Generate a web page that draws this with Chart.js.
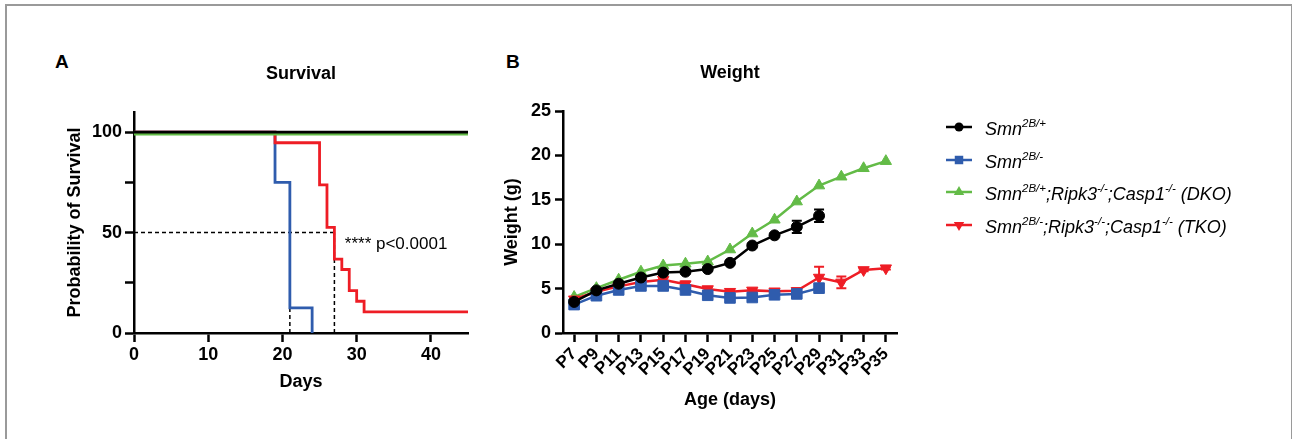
<!DOCTYPE html>
<html>
<head>
<meta charset="utf-8">
<script src="https://cdn.jsdelivr.net/npm/chart.js@4"></script>
<style>
  body { margin: 0; background: #fff; width: 1292px; height: 439px; overflow: hidden; position: relative; font-family: 'Liberation Sans', Arial, sans-serif; }
  #frame { position: absolute; left: 5px; top: 4px; width: 1284px; height: 460px; border: 2px solid #9a9a9a; }
  .letter { position: absolute; top: 52px; font-size: 19px; font-weight: bold; line-height: 1; }
  #boxA { position: absolute; left: 0; top: 0; width: 485px; height: 439px; }
  #boxB { position: absolute; left: 485px; top: 0; width: 807px; height: 439px; }
</style>
</head>
<body>
<div id="frame"></div>
<div class="letter" style="left:55px">A</div>
<div class="letter" style="left:506px">B</div>
<div id="boxA"><canvas id="chartA"></canvas></div>
<div id="boxB"><canvas id="chartB"></canvas></div>
<script>
// survival (Kaplan-Meier steps)
let wtDays = [0, 45];
let wtSurv = [100, 100];
let dkoDays = [0, 45];
let dkoSurv = [99, 99];
let smaDays = [0, 19, 21, 24];
let smaSurv = [100, 75, 12.5, 0];
let tkoDays = [0, 19, 25, 26, 27, 28, 29, 30, 31, 45];
let tkoSurv = [100, 94.7, 73.7, 52.6, 36.8, 31.6, 21.1, 15.8, 10.5, 10.5];
let medianDays = [21, 27];
let daysTicks = [0, 10, 20, 30, 40];
let survTicks = [0, 25, 50, 75, 100];

// weight
let ages = ['P7', 'P9', 'P11', 'P13', 'P15', 'P17', 'P19', 'P21', 'P23', 'P25', 'P27', 'P29', 'P31', 'P33', 'P35'];
let wtWeight = [3.5, 4.8, 5.55, 6.25, 6.8, 6.9, 7.2, 7.9, 9.85, 11.0, 11.95, 13.2];
let wtErr = [0.2, 0.15, 0.15, 0.2, 0.2, 0.2, 0.2, 0.2, 0.2, 0.2, 0.7, 0.7];
let smaWeight = [3.2, 4.2, 4.85, 5.3, 5.3, 4.85, 4.25, 3.95, 4.0, 4.3, 4.4, 5.05];
let smaErr = [0.1, 0.1, 0.1, 0.1, 0.1, 0.1, 0.1, 0.1, 0.1, 0.1, 0.1, 0.1];
let dkoWeight = [4.05, 5.05, 6.0, 6.9, 7.6, 7.8, 8.05, 9.4, 11.2, 12.75, 14.8, 16.6, 17.6, 18.55, 19.35];
let tkoWeight = [3.8, 4.65, 5.25, 5.75, 6.0, 5.5, 4.95, 4.65, 4.8, 4.7, 4.75, 6.25, 5.7, 7.1, 7.3];
let tkoErr = [0.1, 0.1, 0.1, 0.2, 0.2, 0.3, 0.2, 0.2, 0.2, 0.2, 0.2, 1.2, 0.65, 0.15, 0.15];

let legendText = [
  [['Smn', 0], ['2B/+', 1]],
  [['Smn', 0], ['2B/-', 1]],
  [['Smn', 0], ['2B/+', 1], [';Ripk3', 0], ['-/-', 1], [';Casp1', 0], ['-/-', 1], [' (DKO)', 0]],
  [['Smn', 0], ['2B/-', 1], [';Ripk3', 0], ['-/-', 1], [';Casp1', 0], ['-/-', 1], [' (TKO)', 0]]
];

const BLACK = '#000000';
const BLUE = '#2f5cad';
const GREEN = '#63bb47';
const RED = '#ee1d25';
const FONT = "'Liberation Sans', Arial, sans-serif";

Chart.defaults.font.family = FONT;
Chart.defaults.color = '#000';

function pts(xs, ys) {
  return xs.map((x, i) => ({x: x, y: ys[i]}));
}

const axisGrid = {display: true, drawOnChartArea: false, drawTicks: true, tickLength: 9, tickWidth: 2.5, tickColor: '#000'};
const axisBorder = {display: true, color: '#000', width: 2.5};
const boldFont = {size: 18, weight: 'bold'};

const pLabel = {
  id: 'pLabel',
  afterDraw(chart) {
    const {ctx, scales: {x, y}} = chart;
    ctx.save();
    ctx.font = '17px ' + FONT;
    ctx.fillStyle = '#000';
    ctx.textBaseline = 'middle';
    ctx.fillText('**** p<0.0001', x.getPixelForValue(28.4), y.getPixelForValue(44));
    ctx.restore();
  }
};

const kmLine = (data, color, w) => ({
  data: data, borderColor: color, borderWidth: w, stepped: true, pointRadius: 0, fill: false
});
const dashLine = (data) => ({
  data: data, borderColor: '#000', borderWidth: 1.5, borderDash: [4, 3], pointRadius: 0, fill: false
});

let chartA = new Chart(document.getElementById('chartA'), {
  type: 'line',
  data: {
    datasets: [
      kmLine(pts(wtDays, wtSurv), BLACK, 2.8),
      kmLine(pts(dkoDays, dkoSurv), GREEN, 3),
      kmLine(pts(tkoDays, tkoSurv), RED, 2.8),
      kmLine(pts(smaDays, smaSurv), BLUE, 2.8),
      dashLine([{x: 0, y: 50}, {x: medianDays[1], y: 50}]),
      dashLine([{x: medianDays[0], y: 0}, {x: medianDays[0], y: 50}]),
      dashLine([{x: medianDays[1], y: 0}, {x: medianDays[1], y: 50}])
    ]
  },
  options: {
    responsive: true,
    maintainAspectRatio: false,
    animation: false,
    layout: {padding: {left: 0, right: 17, top: 0, bottom: 0}},
    plugins: {
      legend: {display: false},
      tooltip: {enabled: false},
      title: {
        display: true, text: 'Survival', fullSize: false, color: '#000',
        font: boldFont, padding: {top: 63.2, bottom: 27.2}
      }
    },
    scales: {
      x: {
        type: 'linear', min: 0, max: 45,
        afterBuildTicks: s => { s.ticks = daysTicks.map(v => ({value: v})); },
        afterFit: s => { s.height = 106; },
        grid: axisGrid, border: axisBorder,
        ticks: {font: boldFont, padding: 2, color: '#000'},
        title: {display: true, text: 'Days', font: boldFont, padding: {top: 0, bottom: 46.2}}
      },
      y: {
        min: 0, max: 110,
        afterBuildTicks: s => { s.ticks = survTicks.map(v => ({value: v})); },
        afterFit: s => { s.width = 134; },
        grid: axisGrid, border: axisBorder,
        ticks: {font: boldFont, padding: 3, color: '#000', callback: v => (v % 50 === 0 ? v : '')},
        title: {display: true, text: 'Probability of Survival', font: boldFont, padding: {top: 64.2, bottom: 0}}
      }
    }
  },
  plugins: [pLabel]
});

const errorBars = {
  id: 'errorBars',
  beforeDatasetsDraw(chart) {
    const {ctx, scales: {y}} = chart;
    chart.data.datasets.forEach((ds, i) => {
      if (!ds.errors) return;
      const meta = chart.getDatasetMeta(i);
      ctx.save();
      ctx.strokeStyle = ds.borderColor;
      ctx.lineWidth = 2;
      ds.data.forEach((v, j) => {
        const e = ds.errors[j];
        if (v == null || !e || !meta.data[j]) return;
        const px = meta.data[j].x;
        const top = y.getPixelForValue(v + e);
        const bot = y.getPixelForValue(v - e);
        ctx.beginPath();
        ctx.moveTo(px, top); ctx.lineTo(px, bot);
        ctx.moveTo(px - 5, top); ctx.lineTo(px + 5, top);
        ctx.moveTo(px - 5, bot); ctx.lineTo(px + 5, bot);
        ctx.stroke();
      });
      ctx.restore();
    });
  }
};

const sideLegend = {
  id: 'sideLegend',
  afterDraw(chart) {
    const ctx = chart.ctx;
    const rows = [127, 160, 192, 225];
    chart.data.datasets.forEach((ds, i) => {
      const y = rows[i];
      ctx.save();
      ctx.strokeStyle = ds.borderColor;
      ctx.fillStyle = ds.borderColor;
      ctx.lineWidth = 2.5;
      ctx.beginPath();
      ctx.moveTo(461, y); ctx.lineTo(487, y);
      ctx.stroke();
      Chart.helpers.drawPoint(ctx, {
        pointStyle: ds.pointStyle, rotation: ds.pointRotation || 0,
        radius: ds.pointStyle === 'circle' ? 4.5 : 6, borderWidth: 0
      }, 474, y);
      ctx.fillStyle = '#000';
      ctx.textBaseline = 'alphabetic';
      let x = 500;
      const base = y + 8;
      legendText[i].forEach(([t, sup]) => {
        ctx.font = sup ? 'italic 11.5px ' + FONT : 'italic 18px ' + FONT;
        ctx.fillText(t, x, sup ? base - 8 : base);
        x += ctx.measureText(t).width;
      });
      ctx.restore();
    });
  }
};

const wLine = (label, data, color, style, r, extra) => Object.assign({
  label: label, data: data, borderColor: color, backgroundColor: color,
  borderWidth: 2.5, pointStyle: style, pointRadius: r, pointBackgroundColor: color,
  pointBorderColor: color, pointBorderWidth: 1, tension: 0, fill: false
}, extra || {});

let chartB = new Chart(document.getElementById('chartB'), {
  type: 'line',
  data: {
    labels: ages,
    datasets: [
      wLine('Smn2B/+', wtWeight, BLACK, 'circle', 5.5, {errors: wtErr, order: 0}),
      wLine('Smn2B/-', smaWeight, BLUE, 'rect', 7.5, {errors: smaErr, order: 1}),
      wLine('Smn2B/+;Ripk3-/-;Casp1-/- (DKO)', dkoWeight, GREEN, 'triangle', 6.5, {order: 3}),
      wLine('Smn2B/-;Ripk3-/-;Casp1-/- (TKO)', tkoWeight, RED, 'triangle', 6.5, {errors: tkoErr, order: 2, pointRotation: 180})
    ]
  },
  options: {
    responsive: true,
    maintainAspectRatio: false,
    animation: false,
    layout: {padding: {left: 0, right: 395, top: 0, bottom: 0}},
    plugins: {
      legend: {display: false},
      tooltip: {enabled: false},
      title: {
        display: true, text: 'Weight', fullSize: false, color: '#000',
        font: boldFont, padding: {top: 62.2, bottom: 27.2}
      }
    },
    scales: {
      x: {
        offset: true,
        afterFit: s => { s.height = 106; },
        grid: Object.assign({}, axisGrid, {offset: false}), border: axisBorder,
        ticks: {font: {size: 17, weight: 'bold'}, padding: 2, minRotation: 45, maxRotation: 45, autoSkip: false, color: '#000'},
        title: {display: true, text: 'Age (days)', font: boldFont, padding: {top: 0, bottom: 28.2}}
      },
      y: {
        min: 0, max: 25,
        afterFit: s => { s.width = 78; },
        grid: Object.assign({}, axisGrid, {tickLength: 8}), border: axisBorder,
        ticks: {stepSize: 5, font: boldFont, padding: 4, color: '#000'},
        title: {display: true, text: 'Weight (g)', font: boldFont, padding: {top: 16.2, bottom: 0}}
      }
    }
  },
  plugins: [errorBars, sideLegend]
});
</script>
</body>
</html>
